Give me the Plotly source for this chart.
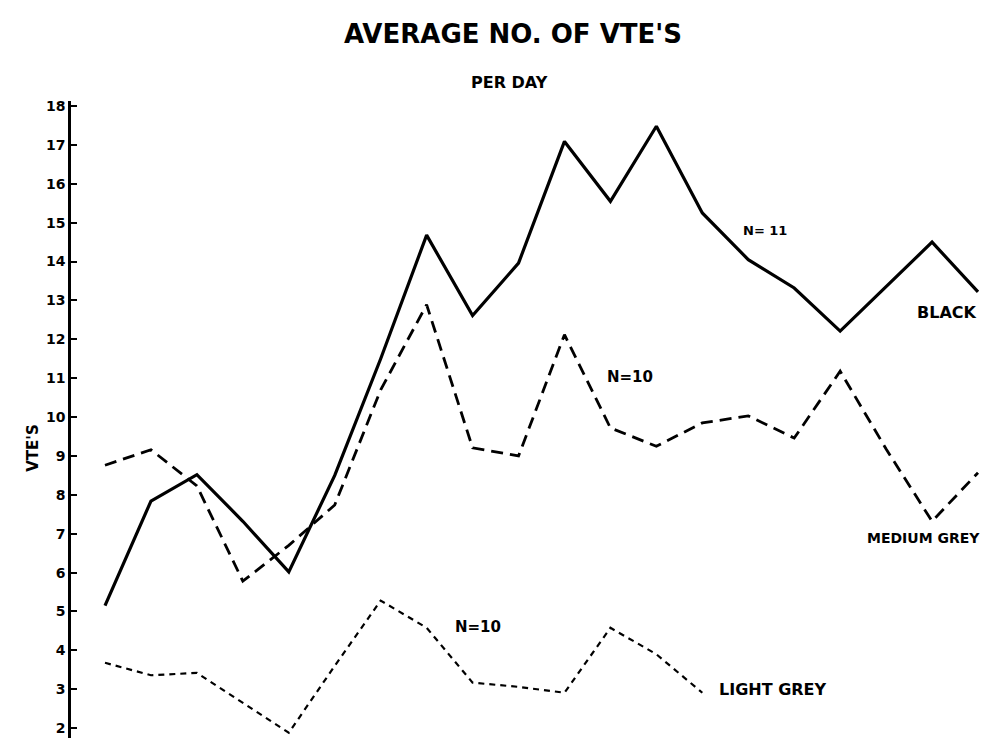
import plotly.graph_objects as go

days = list(range(1, 21))

black_vals = [5.15, 7.84, 8.52, 7.32, 6.02, 8.5, 11.5, 14.68, 12.61, 13.96,
              17.09, 15.55, 17.48, 15.25, 14.05, 13.32, 12.21, 13.36, 14.5, 13.22]
medium_vals = [8.76, 9.16, 8.23, 5.78, 6.7, 7.74, 10.7, 12.89, 9.21, 9.0,
               12.12, 9.72, 9.25, 9.85, 10.03, 9.46, 11.18, 9.18, 7.32, 8.57]
light_days = list(range(1, 15))
light_vals = [3.68, 3.36, 3.42, 2.65, 1.88, 3.6, 5.28, 4.58, 3.17, 3.06,
              2.91, 4.58, 3.9, 2.91]

y_ticks = list(range(2, 19))
title_text = "AVERAGE NO. OF VTE'S"
subtitle_text = "PER DAY"
y_title = "VTE'S"

FONT = "DejaVu Sans"

fig = go.Figure()
fig.add_trace(go.Scatter(x=days, y=black_vals, mode="lines",
                         line=dict(color="black", width=3.2), name="BLACK"))
fig.add_trace(go.Scatter(x=days, y=medium_vals, mode="lines",
                         line=dict(color="black", width=2.8, dash="12px,7px"), name="MEDIUM GREY"))
fig.add_trace(go.Scatter(x=light_days, y=light_vals, mode="lines",
                         line=dict(color="black", width=2.2, dash="6px,5px"), name="LIGHT GREY"))

labels = [
    ("N= 11", 15.36, 14.81, 13, "center"),
    ("BLACK", 20.02, 12.68, 16, "right"),
    ("N=10", 12.43, 11.03, 15, "center"),
    ("MEDIUM GREY", 20.08, 6.90, 14, "right"),
    ("N=10", 9.12, 4.61, 15, "center"),
    ("LIGHT GREY", 15.54, 2.99, 16, "center"),
]
annotations = []
for txt, x, y, s, xa in labels:
    annotations.append(dict(text="<b>" + txt + "</b>", x=x, y=y, xref="x", yref="y",
                            showarrow=False, font=dict(family=FONT, size=s, color="black"),
                            xanchor=xa, yanchor="middle"))
annotations.append(dict(text="<b>" + title_text + "</b>", x=0.474, y=1.104, xref="paper", yref="paper",
                        showarrow=False, font=dict(family=FONT, size=26, color="black"),
                        xanchor="center", yanchor="middle"))
annotations.append(dict(text="<b>" + subtitle_text + "</b>", x=0.471, y=1.028, xref="paper", yref="paper",
                        showarrow=False, font=dict(family=FONT, size=16, color="black"),
                        xanchor="center", yanchor="middle"))
annotations.append(dict(text="<b>" + y_title + "</b>", x=-0.041, y=0.462, xref="paper", yref="paper",
                        showarrow=False, textangle=-90, font=dict(family=FONT, size=15, color="black"),
                        xanchor="center", yanchor="middle"))

fig.update_layout(
    width=995, height=738,
    margin=dict(l=63, r=0, t=93, b=0),
    paper_bgcolor="white", plot_bgcolor="white",
    showlegend=False,
    annotations=annotations,
    xaxis=dict(range=[0.26, 20.544], visible=False, showgrid=False, zeroline=False),
    yaxis=dict(range=[1.54, 18.13], tickvals=y_ticks, ticktext=["<b>" + str(v) + "</b>" for v in y_ticks],
               showgrid=False, zeroline=False, showline=True, linecolor="black", linewidth=2.5,
               ticks="inside", ticklen=6, tickwidth=2, tickcolor="black",
               tickfont=dict(family=FONT, size=14, color="black")),
)

fig.write_html("out.html")
